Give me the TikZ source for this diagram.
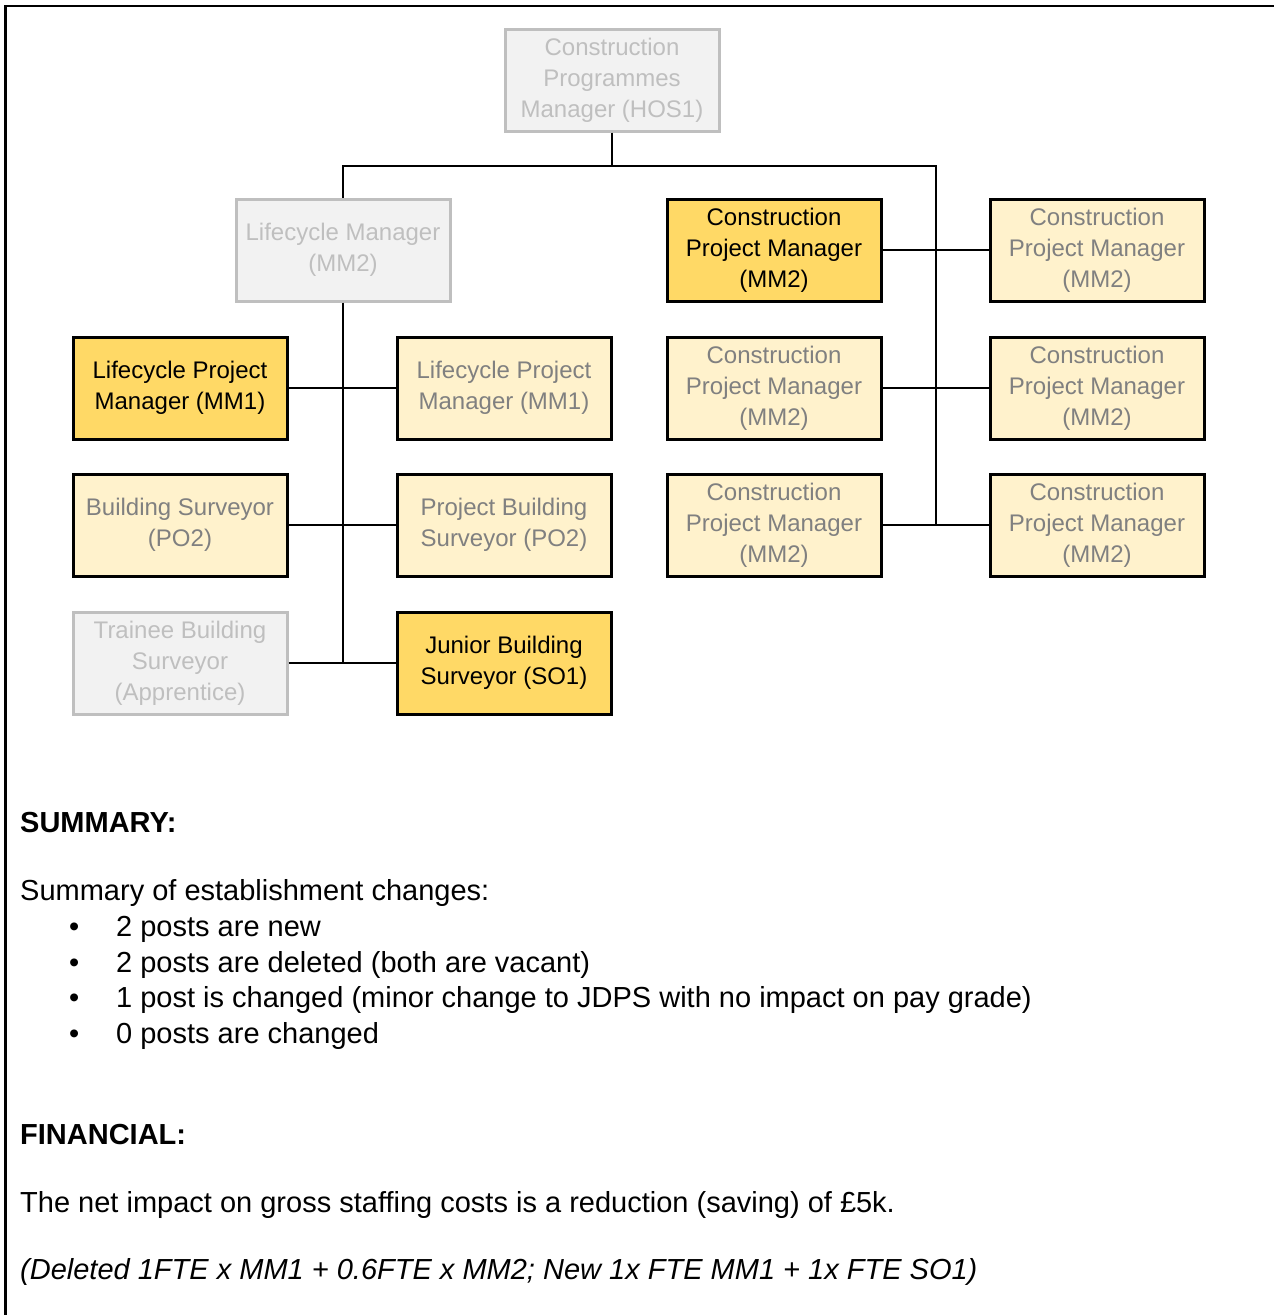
\documentclass[tikz,border=0pt]{standalone}
\usepackage{fontspec}
\setmainfont{Liberation Sans}
\usepackage{tikz}
\usetikzlibrary{positioning}
\usepackage{xcolor}
\definecolor{postyellow}{RGB}{255,217,102}
\definecolor{postcream}{RGB}{255,242,204}
\definecolor{postgrey}{RGB}{242,242,242}
\definecolor{edgegrey}{RGB}{191,191,191}
\definecolor{textgrey}{RGB}{128,128,128}
\tikzstyle{post} = [rectangle, draw=black, line width=3pt, minimum width=214pt, minimum height=102pt, align=center, inner sep=0pt, font=\fontsize{24}{31}\selectfont]
\tikzstyle{newpost} = [post, fill=postyellow, text=black]
\tikzstyle{keptpost} = [post, fill=postcream, text=textgrey]
\tikzstyle{oldpost} = [post, draw=edgegrey, fill=postgrey, text=edgegrey]
\tikzstyle{link} = [line width=2pt, color=black]
\tikzstyle{body} = [anchor=base west, inner sep=0pt, font=\fontsize{29}{35}\selectfont]

\begin{document}
\begin{tikzpicture}[x=1pt, y=-1pt]
\useasboundingbox (0,0) rectangle (1274,1315);
% Frame
\draw[line width=2pt] (5,6) -- (1274,6);
\draw[line width=3pt] (5,5) -- (5,1315);

% Posts
\node[oldpost] (hos) at (612,80) {Construction\\Programmes\\Manager (HOS1)};
\node[oldpost] (lcm) at (343,250) {Lifecycle Manager\\(MM2)};
\node[newpost] (lpmNew) at (180,388) {Lifecycle Project\\Manager (MM1)};
\node[keptpost] (lpm) at (504,388) {Lifecycle Project\\Manager (MM1)};
\node[keptpost] (bs) at (180,525) {Building Surveyor\\(PO2)};
\node[keptpost] (pbs) at (504,525) {Project Building\\Surveyor (PO2)};
\node[oldpost] (tbs) at (180,663) {Trainee Building\\Surveyor\\(Apprentice)};
\node[newpost] (jbs) at (504,663) {Junior Building\\Surveyor (SO1)};
\node[newpost] (cpmNew) at (774,250) {Construction\\Project Manager\\(MM2)};
\node[keptpost] (cpmA) at (1097,250) {Construction\\Project Manager\\(MM2)};
\node[keptpost] (cpmB) at (774,388) {Construction\\Project Manager\\(MM2)};
\node[keptpost] (cpmC) at (1097,388) {Construction\\Project Manager\\(MM2)};
\node[keptpost] (cpmD) at (774,525) {Construction\\Project Manager\\(MM2)};
\node[keptpost] (cpmE) at (1097,525) {Construction\\Project Manager\\(MM2)};

% Lines
\coordinate (busL) at (343,166);
\coordinate (busR) at (936,166);
\draw[link] (hos) -- (hos |- busL);
\draw[link] (lcm) -- (busL) -- (busR) -- (busR |- cpmE);
\draw[link] (lcm) -- (lcm |- tbs);
\draw[link] (lpmNew) -- (lpm);
\draw[link] (bs) -- (pbs);
\draw[link] (tbs) -- (jbs);
\draw[link] (cpmNew) -- (cpmA);
\draw[link] (cpmB) -- (cpmC);
\draw[link] (cpmD) -- (cpmE);

% Summary
\node[body, font=\fontsize{29}{35}\selectfont\bfseries] (summaryHead) at (20,832) {SUMMARY:};
\node[body] (summaryIntro) at (20,900) {Summary of establishment changes:};
\node[body] (itemA) at (69,936) {\makebox[47pt][l]{\textbullet}2 posts are new};
\node[body] (itemB) at (69,972) {\makebox[47pt][l]{\textbullet}2 posts are deleted (both are vacant)};
\node[body] (itemC) at (69,1007) {\makebox[47pt][l]{\textbullet}1 post is changed (minor change to JDPS with no impact on pay grade)};
\node[body] (itemD) at (69,1043) {\makebox[47pt][l]{\textbullet}0 posts are changed};

% Financial
\node[body, font=\fontsize{29}{35}\selectfont\bfseries] (financeHead) at (20,1144) {FINANCIAL:};
\node[body] (financeText) at (20,1212) {The net impact on gross staffing costs is a reduction (saving) of £5k.};
\node[body, font=\fontsize{29}{35}\selectfont\itshape] (financeNote) at (20,1279) {(Deleted 1FTE x MM1 + 0.6FTE x MM2; New 1x FTE MM1 + 1x FTE SO1)};
\end{tikzpicture}
\end{document}
